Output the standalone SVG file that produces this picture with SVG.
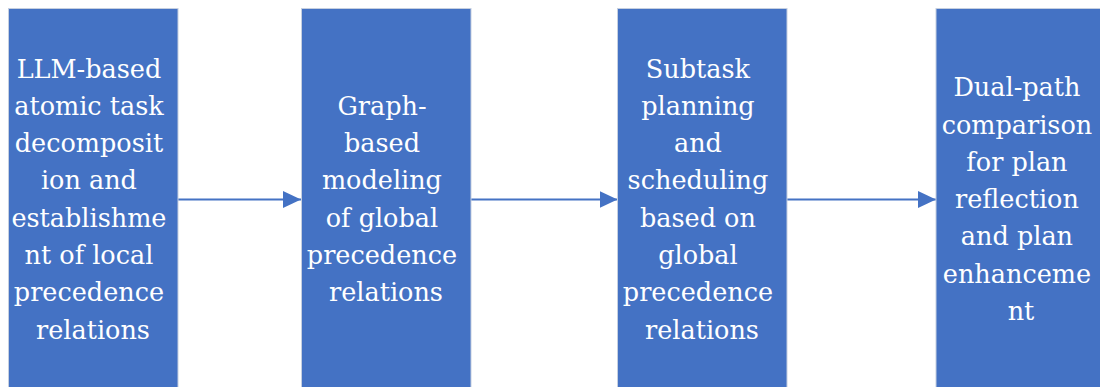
<svg xmlns="http://www.w3.org/2000/svg" width="1100" height="387" viewBox="0 0 1100 387">
<style>
.box{fill:#4472C4;stroke:#c5cfe0;stroke-width:1}
.t{font-family:'DejaVu Serif','Liberation Serif',serif;font-size:25.5px;fill:#ffffff;text-anchor:middle}
.c{stroke:#4472C4;stroke-width:2;fill:none}
</style>
<defs>
<marker id="ah" markerUnits="userSpaceOnUse" markerWidth="18" markerHeight="18" refX="18" refY="8.5" orient="auto">
<path d="M0,0 L18,8.5 L0,17 Z" fill="#4472C4"/>
</marker>
</defs>
<rect width="1100" height="387" fill="#ffffff"/>
<g id="connectors">
<line class="c" x1="178" y1="199.5" x2="301" y2="199.5" marker-end="url(#ah)"/>
<line class="c" x1="471" y1="199.5" x2="617.5" y2="199.5" marker-end="url(#ah)"/>
<line class="c" x1="787" y1="199.5" x2="936" y2="199.5" marker-end="url(#ah)"/>
</g>
<g id="node1">
<rect class="box" x="8.5" y="8.5" width="169.5" height="390"/>
<text class="t">
<tspan x="93" y="77.5">LLM-based</tspan>
<tspan x="93" y="114.8">atomic task</tspan>
<tspan x="93" y="152.1">decomposit</tspan>
<tspan x="93" y="189.4">ion and</tspan>
<tspan x="93" y="226.7">establishme</tspan>
<tspan x="93" y="264">nt of local</tspan>
<tspan x="93" y="301.3">precedence</tspan>
<tspan x="93" y="338.6">relations</tspan>
</text>
</g>
<g id="node2">
<rect class="box" x="301.5" y="8.5" width="169.5" height="390"/>
<text class="t">
<tspan x="386" y="114.8">Graph-</tspan>
<tspan x="386" y="152.1">based</tspan>
<tspan x="386" y="189.4">modeling</tspan>
<tspan x="386" y="226.7">of global</tspan>
<tspan x="386" y="264">precedence</tspan>
<tspan x="386" y="301.3">relations</tspan>
</text>
</g>
<g id="node3">
<rect class="box" x="617.5" y="8.5" width="169.5" height="390"/>
<text class="t">
<tspan x="702" y="77.5">Subtask</tspan>
<tspan x="702" y="114.8">planning</tspan>
<tspan x="702" y="152.1">and</tspan>
<tspan x="702" y="189.4">scheduling</tspan>
<tspan x="702" y="226.7">based on</tspan>
<tspan x="702" y="264">global</tspan>
<tspan x="702" y="301.3">precedence</tspan>
<tspan x="702" y="338.6">relations</tspan>
</text>
</g>
<g id="node4">
<rect class="box" x="936" y="8.5" width="170" height="390"/>
<text class="t">
<tspan x="1021" y="96.2">Dual-path</tspan>
<tspan x="1021" y="133.5">comparison</tspan>
<tspan x="1021" y="170.8">for plan</tspan>
<tspan x="1021" y="208.1">reflection</tspan>
<tspan x="1021" y="245.4">and plan</tspan>
<tspan x="1021" y="282.7">enhanceme</tspan>
<tspan x="1021" y="320">nt</tspan>
</text>
</g>
</svg>
